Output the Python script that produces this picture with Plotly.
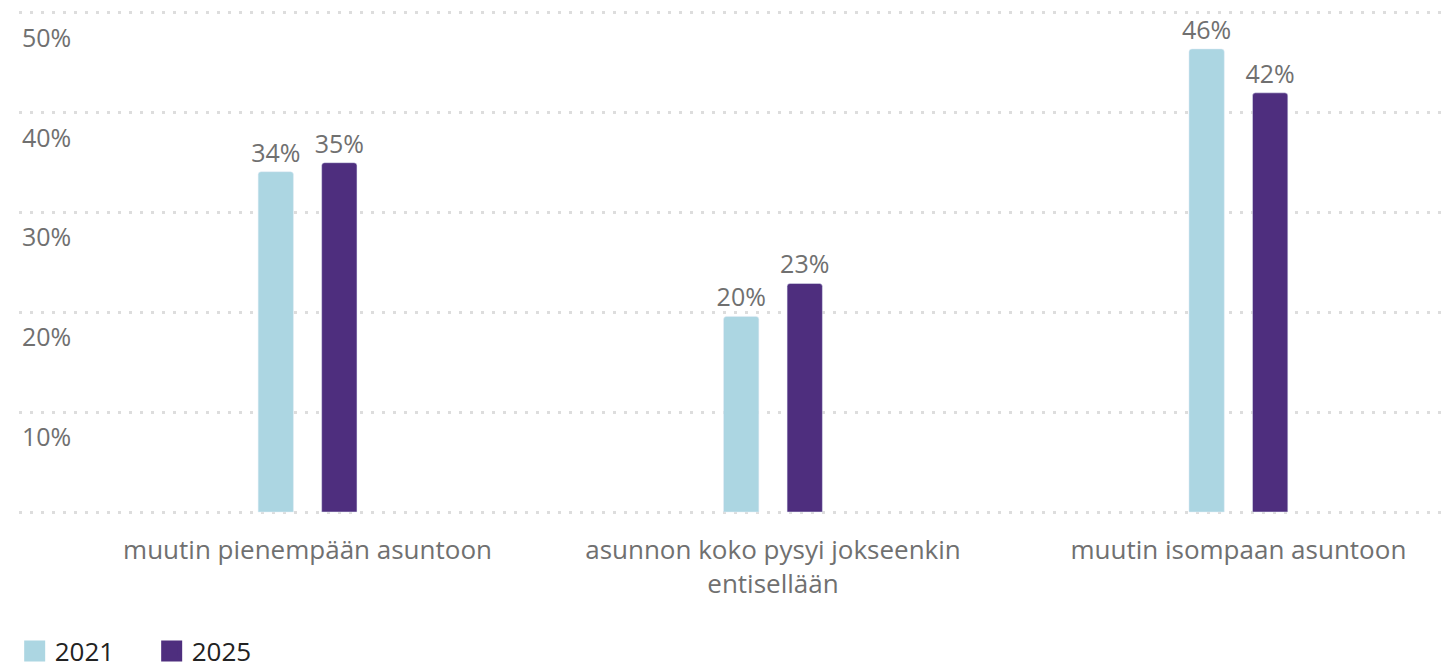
import plotly.graph_objects as go

categories = ["muutin pienempään asuntoon",
              "asunnon koko pysyi jokseenkin<br>entisellään",
              "muutin isompaan asuntoon"]
series_names = ["2021", "2025"]
values_2021 = [34.1, 19.6, 46.4]
values_2025 = [35.0, 22.9, 42.0]
colors = ["#acd6e2", "#4e2e7e"]
y_ticks = [0, 10, 20, 30, 40, 50]
y_ticktext = ["", "10%", "20%", "30%", "40%", "50%"]

FONT = "Open Sans"
GRAY = "#707070"

fig = go.Figure()
for name, vals, col in zip(series_names, [values_2021, values_2025], colors):
    fig.add_trace(go.Bar(
        x=categories, y=vals, name=name, marker=dict(color=col, cornerradius=3),
        texttemplate="%{y:.0f}%", textposition="outside", constraintext="none",
        textfont=dict(family=FONT, size=25, color=GRAY),
        cliponaxis=False, showlegend=False, hoverinfo="skip",
    ))
    fig.add_trace(go.Scatter(
        x=[categories[0]], y=[None], name=name, mode="markers",
        marker=dict(symbol="square", size=16, color=col, line=dict(color=col, width=5)),
        showlegend=True,
    ))

fig.update_layout(
    width=1451, height=667,
    margin=dict(l=11, r=0, t=2, b=160, autoexpand=False),
    paper_bgcolor="white", plot_bgcolor="white",
    barmode="group", bargap=0.727, bargroupgap=0.444,
    font=dict(family=FONT, color=GRAY, size=25),
    legend=dict(orientation="h", x=-0.003, xanchor="left",
                yref="container", y=0.036, yanchor="middle",
                font=dict(family=FONT, size=26, color="#222222"),
                itemsizing="trace", traceorder="normal", entrywidth=92, entrywidthmode="pixels"),
    xaxis=dict(range=[-0.62, 2.474], showgrid=False, showline=False, zeroline=False,
               automargin=False,
               ticks="", tickfont=dict(family=FONT, size=26, color=GRAY), ticklabelstandoff=17),
    yaxis=dict(range=[-0.3, 50.3], tickvals=y_ticks, ticktext=y_ticktext,
               showgrid=True, gridcolor="#dddddd", gridwidth=3, griddash="3px,8px",
               zeroline=False, showline=False, ticks="", automargin=False,
               ticklabelposition="inside", ticklabelshift=25,
               tickfont=dict(family=FONT, size=25, color=GRAY)),
)
fig.write_html("out.html")
